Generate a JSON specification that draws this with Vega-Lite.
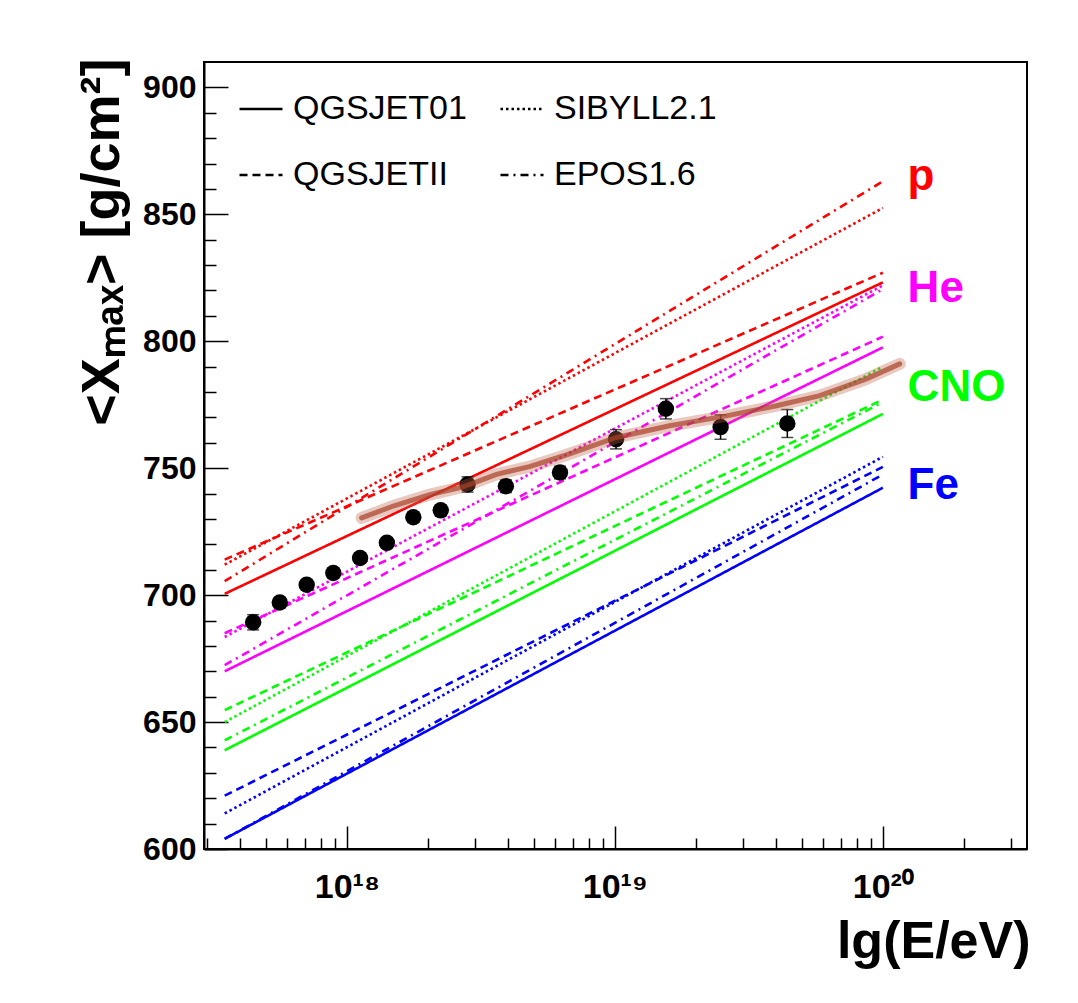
{
  "$schema": "https://vega.github.io/schema/vega-lite/v6.json",
  "width": 823,
  "height": 787,
  "autosize": {"type": "none"},
  "padding": {"left": 204, "top": 62, "right": 51, "bottom": 154},
  "background": "white",
  "config": {
    "view": {"stroke": "black", "strokeWidth": 2},
    "font": "Liberation Sans"
  },
  "datasets": {
    "models": [
      {"comp": "p", "model": "QGSJET01", "E": 3.5e17, "xmax": 700.5},
      {"comp": "p", "model": "QGSJET01", "E": 1e20, "xmax": 823.2},
      {"comp": "p", "model": "SIBYLL2.1", "E": 3.5e17, "xmax": 712},
      {"comp": "p", "model": "SIBYLL2.1", "E": 1e20, "xmax": 852.5},
      {"comp": "p", "model": "QGSJETII", "E": 3.5e17, "xmax": 714},
      {"comp": "p", "model": "QGSJETII", "E": 1e20, "xmax": 827},
      {"comp": "p", "model": "EPOS1.6", "E": 3.5e17, "xmax": 705.5},
      {"comp": "p", "model": "EPOS1.6", "E": 1e20, "xmax": 863},
      {"comp": "He", "model": "QGSJET01", "E": 3.5e17, "xmax": 670},
      {"comp": "He", "model": "QGSJET01", "E": 1e20, "xmax": 797.6},
      {"comp": "He", "model": "SIBYLL2.1", "E": 3.5e17, "xmax": 683.5},
      {"comp": "He", "model": "SIBYLL2.1", "E": 1e20, "xmax": 822},
      {"comp": "He", "model": "QGSJETII", "E": 3.5e17, "xmax": 685},
      {"comp": "He", "model": "QGSJETII", "E": 1e20, "xmax": 801.8},
      {"comp": "He", "model": "EPOS1.6", "E": 3.5e17, "xmax": 672.4},
      {"comp": "He", "model": "EPOS1.6", "E": 1e20, "xmax": 820.5},
      {"comp": "CNO", "model": "QGSJET01", "E": 3.5e17, "xmax": 638.9},
      {"comp": "CNO", "model": "QGSJET01", "E": 1e20, "xmax": 771.4},
      {"comp": "CNO", "model": "SIBYLL2.1", "E": 3.5e17, "xmax": 650},
      {"comp": "CNO", "model": "SIBYLL2.1", "E": 1e20, "xmax": 790},
      {"comp": "CNO", "model": "QGSJETII", "E": 3.5e17, "xmax": 654.7},
      {"comp": "CNO", "model": "QGSJETII", "E": 1e20, "xmax": 777},
      {"comp": "CNO", "model": "EPOS1.6", "E": 3.5e17, "xmax": 642.8},
      {"comp": "CNO", "model": "EPOS1.6", "E": 1e20, "xmax": 776},
      {"comp": "Fe", "model": "QGSJET01", "E": 3.5e17, "xmax": 604},
      {"comp": "Fe", "model": "QGSJET01", "E": 1e20, "xmax": 742.3},
      {"comp": "Fe", "model": "SIBYLL2.1", "E": 3.5e17, "xmax": 614},
      {"comp": "Fe", "model": "SIBYLL2.1", "E": 1e20, "xmax": 754.5},
      {"comp": "Fe", "model": "QGSJETII", "E": 3.5e17, "xmax": 621},
      {"comp": "Fe", "model": "QGSJETII", "E": 1e20, "xmax": 750.5},
      {"comp": "Fe", "model": "EPOS1.6", "E": 3.5e17, "xmax": 604},
      {"comp": "Fe", "model": "EPOS1.6", "E": 1e20, "xmax": 747.5}
    ],
    "points": [
      {"E": 4.47e17, "xmax": 689.3, "lo": 686.3, "hi": 692.3},
      {"E": 5.62e17, "xmax": 697.1, "lo": 695.1, "hi": 699.1},
      {"E": 7.08e17, "xmax": 704.1, "lo": 702.1, "hi": 706.1},
      {"E": 8.9e17, "xmax": 708.7, "lo": 706.7, "hi": 710.7},
      {"E": 1.12e18, "xmax": 714.6, "lo": 712.6, "hi": 716.6},
      {"E": 1.41e18, "xmax": 720.6, "lo": 718.6, "hi": 722.6},
      {"E": 1.77e18, "xmax": 730.7, "lo": 728.7, "hi": 732.7},
      {"E": 2.24e18, "xmax": 733.4, "lo": 731.4, "hi": 735.4},
      {"E": 2.82e18, "xmax": 743.6, "lo": 740.6, "hi": 746.6},
      {"E": 3.92e18, "xmax": 742.9, "lo": 740.4, "hi": 745.4},
      {"E": 6.24e18, "xmax": 748.3, "lo": 745.8, "hi": 750.8},
      {"E": 1.01e19, "xmax": 761.4, "lo": 757.6, "hi": 765.2},
      {"E": 1.55e19, "xmax": 773.4, "lo": 769.4, "hi": 777.4},
      {"E": 2.48e19, "xmax": 766.2, "lo": 761.4, "hi": 771.0},
      {"E": 4.4e19, "xmax": 767.6, "lo": 762.1, "hi": 773.1}
    ],
    "band": [
      {"E": 1.135e18, "xmax": 730.4},
      {"E": 1.5e18, "xmax": 735.2},
      {"E": 2.04e18, "xmax": 739.6},
      {"E": 2.7e18, "xmax": 742.6},
      {"E": 3.62e18, "xmax": 747.6},
      {"E": 4.8e18, "xmax": 750.6},
      {"E": 6.41e18, "xmax": 754.8},
      {"E": 1.014e19, "xmax": 762.1},
      {"E": 1.6e19, "xmax": 766.7},
      {"E": 2.61e19, "xmax": 770.6},
      {"E": 4.01e19, "xmax": 774.6},
      {"E": 5.82e19, "xmax": 778.6},
      {"E": 8.69e19, "xmax": 785.2},
      {"E": 1.156e20, "xmax": 791.1}
    ],
    "labels": [
      {"comp": "p", "E": 1.237e20, "xmax": 859.4},
      {"comp": "He", "E": 1.237e20, "xmax": 815.5},
      {"comp": "CNO", "E": 1.237e20, "xmax": 776.4},
      {"comp": "Fe", "E": 1.237e20, "xmax": 737.7}
    ]
  },
  "encoding": {
    "x": {
      "field": "E",
      "type": "quantitative",
      "scale": {"type": "log", "domain": [2.93e17, 3.45e20], "nice": false},
      "axis": {
        "values": [3e17, 4e17, 5e17, 6e17, 7e17, 8e17, 9e17, 1e18, 2e18, 3e18, 4e18, 5e18, 6e18, 7e18, 8e18, 9e18, 1e19, 2e19, 3e19, 4e19, 5e19, 6e19, 7e19, 8e19, 9e19, 1e20, 2e20, 3e20],
        "labelExpr": "datum.value == 1e18 ? '10¹⁸' : datum.value == 1e19 ? '10¹⁹' : datum.value == 1e20 ? '10²⁰' : ''",
        "tickSize": {"condition": {"test": "datum.value == 1e18 || datum.value == 1e19 || datum.value == 1e20", "value": -23}, "value": -11},
        "tickColor": "black",
        "tickWidth": 1.5,
        "domainColor": "black",
        "domainWidth": 2,
        "grid": false,
        "labelFont": "Liberation Sans",
        "labelFontWeight": "bold",
        "labelFontSize": 34,
        "labelColor": "black",
        "labelBaseline": "alphabetic",
        "labelPadding": 71,
        "labelOverlap": false,
        "labelFlush": false,
        "title": "lg(E/eV)",
        "titleFont": "Liberation Sans",
        "titleFontWeight": "bold",
        "titleFontSize": 52,
        "titleColor": "black",
        "titleAnchor": "end",
        "titleAlign": "right",
        "titleBaseline": "alphabetic",
        "titleX": 826,
        "titleY": 108
      }
    },
    "y": {
      "field": "xmax",
      "type": "quantitative",
      "scale": {"domain": [600, 910], "nice": false, "zero": false},
      "axis": {
        "values": [600, 610, 620, 630, 640, 650, 660, 670, 680, 690, 700, 710, 720, 730, 740, 750, 760, 770, 780, 790, 800, 810, 820, 830, 840, 850, 860, 870, 880, 890, 900],
        "labelExpr": "datum.value % 50 == 0 ? datum.label : ''",
        "tickSize": {"condition": {"test": "datum.value % 50 == 0", "value": -24}, "value": -12},
        "tickColor": "black",
        "tickWidth": 1.5,
        "domainColor": "black",
        "domainWidth": 2,
        "grid": false,
        "labelFont": "Liberation Sans",
        "labelFontWeight": "bold",
        "labelFontSize": 32,
        "labelColor": "black",
        "labelPadding": 32,
        "labelOverlap": false,
        "labelFlush": false,
        "title": "<Xₘₐₓ> [g/cm²]",
        "titleFont": "Liberation Sans",
        "titleFontWeight": "bold",
        "titleFontSize": 54,
        "titleColor": "black",
        "titleAngle": -90,
        "titleAnchor": "end",
        "titleAlign": "right",
        "titleBaseline": "alphabetic",
        "titleX": -86,
        "titleY": -4
      }
    }
  },
  "layer": [
    {
      "data": {"name": "models"},
      "mark": {"type": "line", "strokeWidth": 2.6},
      "encoding": {
        "color": {
          "field": "comp",
          "type": "nominal",
          "scale": {"domain": ["p", "He", "CNO", "Fe"], "range": ["#ff0000", "#ff00ff", "#00ff00", "#0000ff"]},
          "legend": null
        },
        "strokeDash": {
          "field": "model",
          "type": "nominal",
          "scale": {"domain": ["QGSJET01", "QGSJETII", "SIBYLL2.1", "EPOS1.6"], "range": [[1, 0], [8, 5], [2.5, 3], [8, 5, 2, 5]]},
          "legend": {
            "title": null,
            "orient": "none",
            "legendX": 34,
            "legendY": 24,
            "columns": 2,
            "symbolType": "stroke",
            "symbolSize": 1850,
            "symbolStrokeWidth": 2.5,
            "symbolStrokeColor": "black",
            "labelFont": "Liberation Sans",
            "labelFontSize": 34,
            "labelColor": "black",
            "labelOffset": 9,
            "labelLimit": 400,
            "rowPadding": 26,
            "columnPadding": 28,
            "padding": 0
          }
        }
      }
    },
    {
      "data": {"name": "points"},
      "mark": {"type": "rule", "color": "black", "strokeWidth": 1.5},
      "encoding": {"y": {"field": "lo", "type": "quantitative"}, "y2": {"field": "hi"}}
    },
    {
      "data": {"name": "points"},
      "mark": {"type": "tick", "orient": "horizontal", "color": "black", "size": 12, "thickness": 1.5},
      "encoding": {"y": {"field": "lo", "type": "quantitative"}}
    },
    {
      "data": {"name": "points"},
      "mark": {"type": "tick", "orient": "horizontal", "color": "black", "size": 12, "thickness": 1.5},
      "encoding": {"y": {"field": "hi", "type": "quantitative"}}
    },
    {
      "data": {"name": "points"},
      "mark": {"type": "circle", "color": "black", "size": 270, "opacity": 1}
    },
    {
      "data": {"name": "band"},
      "mark": {"type": "line", "color": "#c0604a", "strokeWidth": 12, "opacity": 0.35, "strokeCap": "round"},
      "encoding": {}
    },
    {
      "data": {"name": "band"},
      "mark": {"type": "line", "color": "#a8402a", "strokeWidth": 5, "opacity": 0.7, "strokeCap": "round"},
      "encoding": {}
    },
    {
      "data": {"name": "labels"},
      "mark": {"type": "text", "align": "left", "baseline": "alphabetic", "font": "Liberation Sans", "fontWeight": "bold", "fontSize": 44},
      "encoding": {
        "text": {"field": "comp"},
        "color": {"field": "comp", "type": "nominal", "legend": null}
      }
    }
  ]
}
